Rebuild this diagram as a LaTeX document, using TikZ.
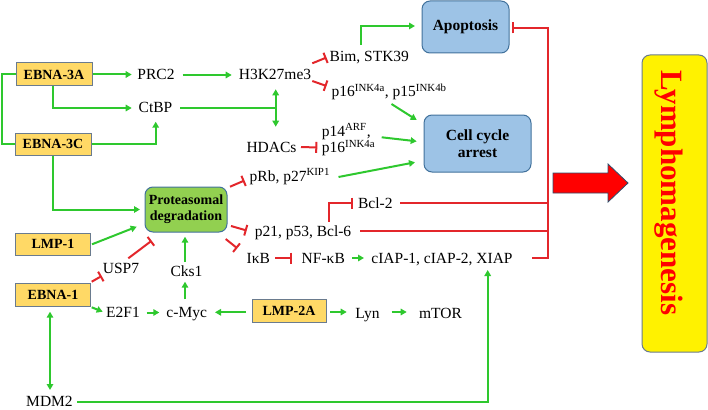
\documentclass[tikz,border=0pt]{standalone}
\usepackage{fontspec}
\setmainfont{Liberation Serif}
\usetikzlibrary{arrows.meta,calc}
\definecolor{gr}{HTML}{2EC82E}
\definecolor{rd}{HTML}{E3262B}
\definecolor{ybox}{HTML}{FFD966}
\definecolor{bbox}{HTML}{9DC3E6}
\definecolor{gbox}{HTML}{92D050}
\definecolor{edgec}{HTML}{6A7B8E}
\definecolor{bedge}{HTML}{41719C}
\begin{document}
\begin{tikzpicture}[x=1pt,y=-1pt,
  txt/.style={inner sep=0pt, font=\fontsize{15.5}{15.4}\selectfont},
  vbox/.style={draw=edgec, fill=ybox, line width=1pt, inner sep=0pt,
    minimum width=76pt, minimum height=23pt, font=\fontsize{14}{16}\selectfont\bfseries},
  rbox/.style={draw=bedge, line width=1pt, rounded corners=8pt, inner sep=0pt,
    align=center, font=\fontsize{15.5}{17}\selectfont\bfseries},
  act/.style={draw=gr, line width=2pt, -{Triangle[length=6pt,width=6.5pt]}},
  bact/.style={draw=gr, line width=2pt, {Triangle[length=6pt,width=6.5pt]}-{Triangle[length=6pt,width=6.5pt]}},
  gline/.style={draw=gr, line width=2pt},
  inh/.style={draw=rd, line width=2pt, -{Bar[width=11pt]}},
  rline/.style={draw=rd, line width=2pt},
]
\useasboundingbox (0,0) rectangle (708,409);

% boxes
\node[vbox] (ebna3a) at (54,74.5) {EBNA-3A};
\node[vbox, minimum height=22pt] (ebna3c) at (53,144) {EBNA-3C};
\node[vbox, minimum width=75pt, minimum height=22pt] (lmp1) at (53,244) {LMP-1};
\node[vbox, minimum width=75pt] (ebna1) at (53,294.5) {EBNA-1};
\node[vbox, minimum width=74pt] (lmp2a) at (289,310.5) {LMP-2A};
\node[rbox, fill=bbox, minimum width=87pt, minimum height=52pt] (apop) at (465.5,27) {Apoptosis};
\node[rbox, fill=bbox, minimum width=107pt, minimum height=57pt] (cell) at (477.5,143.5) {Cell cycle\\arrest};
\node[rbox, fill=gbox, minimum width=82pt, minimum height=45pt, font=\fontsize{14}{16}\selectfont\bfseries] (prot) at (186,209.5) {Proteasomal\\degradation};
\node[draw=edgec, fill=yellow, line width=1pt, rounded corners=8pt, minimum width=65pt, minimum height=297pt, inner sep=0pt] (lymbox) at (674.5,203.5) {};
\node[rotate=-90, text=red, inner sep=0pt, font=\fontsize{31}{31}\selectfont\bfseries] (lympho) at (669,193) {Lymphomagenesis};

% texts
\node[txt, anchor=base] (prc2) at (156,80) {PRC2};
\node[txt, anchor=base] (h3k) at (275,80) {H3K27me3};
\node[txt, anchor=base] (ctbp) at (155.5,113) {CtBP};
\node[txt, anchor=base] (hdacs) at (271.5,152.5) {HDACs};
\node[txt, anchor=base west, align=left] (p14) at (321.7,152.7) {p14\textsuperscript{ARF},\\p16\textsuperscript{INK4a}};
\node[txt, anchor=base west] (bim) at (329.5,61.5) {Bim, STK39};
\node[txt, anchor=base west] (p16p15) at (331.5,96.5) {p16\textsuperscript{INK4a}, p15\textsuperscript{INK4b}};
\node[txt, anchor=base west] (prb) at (249.5,181) {pRb, p27\textsuperscript{KIP1}};
\node[txt, anchor=base] (bcl2) at (375.3,208.5) {Bcl-2};
\node[txt, anchor=base] (p21) at (303,236.5) {p21, p53, Bcl-6};
\node[txt, anchor=base] (ikb) at (258.3,263) {IκB};
\node[txt, anchor=base] (nfkb) at (323.3,263) {NF-κB};
\node[txt, anchor=base] (ciap) at (442,263) {cIAP-1, cIAP-2, XIAP};
\node[txt, anchor=base] (usp7) at (121,273) {USP7};
\node[txt, anchor=base] (cks1) at (186.5,276) {Cks1};
\node[txt, anchor=base] (e2f1) at (123,317.5) {E2F1};
\node[txt, anchor=base] (cmyc) at (186.7,317.5) {c-Myc};
\node[txt, anchor=base] (lyn) at (367.5,318) {Lyn};
\node[txt, anchor=base] (mtor) at (440.5,318) {mTOR};
\node[txt, anchor=base] (mdm2) at (49.5,406.5) {MDM2};

% big arrow
\draw[draw=bedge!70!black, fill=red, line width=0.8pt]
  ($(lymbox)+(-121.5,-30.5)$) -- ++(55,0) -- ++(0,-9) -- ++(20,19) -- ++(-20,19) -- ++(0,-9) -- ++(-55,0) -- cycle;

% connectors
\draw[gline] (ebna3a.west) -- ++(-14,0) |- (ebna3c.west);
\draw[act] (ebna3a.east) -- ($(prc2.base)+(-24.3,-5.5)$);
\draw[act] ($(prc2.base)+(26.7,-5)$) -- ($(h3k.base)+(-43.3,-5)$);
\draw[act] ($(ebna3a.south)+(-0.7,0)$) |- ($(ctbp.base)+(-23.8,-5)$);
\draw[act] (ebna3c.east) -| ($(ctbp.base)+(0.2,8.7)$);
\coordinate (jn) at ($(h3k.base)+(0.7,28)$);
\draw[gline] ($(ctbp.base)+(24.5,-5)$) -- (jn);
\draw[bact] ($(h3k.base)+(0.7,9.3)$) -- ($(hdacs.base)+(4.2,-25.8)$);
\draw[inh] ($(hdacs.base)+(29.5,-5.5)$) -- ($(p14.base west)+(-4.4,-5.2)$);
\draw[act] ($(p14.base west)+(60,-15.4)$) -- ($(cell)+(-60.8,-2.2)$);
\draw[inh] ($(h3k.base)+(37.3,-16.7)$) -- ($(bim.base west)+(-3,-4)$);
\draw[inh] ($(h3k.base)+(37.3,1)$) -- ($(p16p15.base west)+(-5,-10.5)$);
\draw[act] ($(p16p15.base west)+(60,7.5)$) -- ($(cell)+(-60.8,-23.5)$);
\draw[act] ($(bim.base west)+(31.5,-16.5)$) |- ($(apop)+(-50.5,-1)$);
\draw[inh] ($(prot)+(44,-22.8)$) -- ($(prb.base west)+(-5,-0.5)$);
\draw[act] ($(prb.base west)+(89,-4)$) -- ($(cell)+(-62.5,18.8)$);
\draw[act] (ebna3c.south) |- ($(prot)+(-46,0)$);
\draw[act] ($(lmp1.east)+(1,0.3)$) -- ($(prot)+(-49.3,17.2)$);
\draw[inh] ($(ebna1)+(38.7,-12.8)$) -- ($(usp7.base)+(-19.3,3)$);
\draw[inh] ($(usp7.base)+(7.3,-14.7)$) -- ($(prot)+(-34.3,31.2)$);
\draw[act] ($(cks1.base)+(-1.5,-14.3)$) -- ($(prot)+(-1,27.2)$);
\draw[act] ($(cmyc.base)+(-1.7,-18.2)$) -- ($(cks1.base)+(-1.5,5.7)$);
\draw[act] ($(ebna1)+(38.7,12.8)$) -- ($(e2f1.base)+(-20.3,-5.8)$);
\draw[act] ($(e2f1.base)+(23.7,-5)$) -- ($(cmyc.base)+(-27.4,-5)$);
\draw[act] ($(lmp2a)+(-43,1.8)$) -- ($(cmyc.base)+(28.3,-5.2)$);
\draw[act] ($(lmp2a)+(41,1.5)$) -- ($(lyn.base)+(-20.8,-6)$);
\draw[act] ($(lyn.base)+(24.2,-6)$) -- ($(mtor.base)+(-33.8,-6)$);
\draw[bact] ($(ebna1)+(-3,17.2)$) -- ($(mdm2.base)+(0.5,-16.5)$);
\draw[act] ($(mdm2.base)+(27.5,-5)$) -| ($(ciap.base)+(45.7,7)$);
\draw[inh] ($(prot)+(45,16.5)$) -- ($(p21.base)+(-56.3,-6)$);
\draw[inh] ($(p21.base)+(26.3,-14.8)$) |- ($(bcl2.base)+(-22,-5.5)$);
\coordinate (rtop) at ($(apop)+(82.5,1)$);
\draw[rline] ($(bcl2.base)+(24.7,-5.5)$) -- ++(148,0);
\draw[rline] ($(p21.base)+(57,-5.5)$) -- ++(188,0);
\draw[inh] ($(ciap.base)+(90,-5)$) -| (rtop) -- ($(apop)+(46.5,1)$);
\draw[inh] ($(prot)+(39.7,29.5)$) -- ($(ikb.base)+(-21,-14.7)$);
\draw[inh] ($(ikb.base)+(16.7,-5)$) -- ($(nfkb.base)+(-31.6,-5)$);
\draw[act] ($(nfkb.base)+(29,-5)$) -- ($(ciap.base)+(-78,-5)$);
\end{tikzpicture}
\end{document}
